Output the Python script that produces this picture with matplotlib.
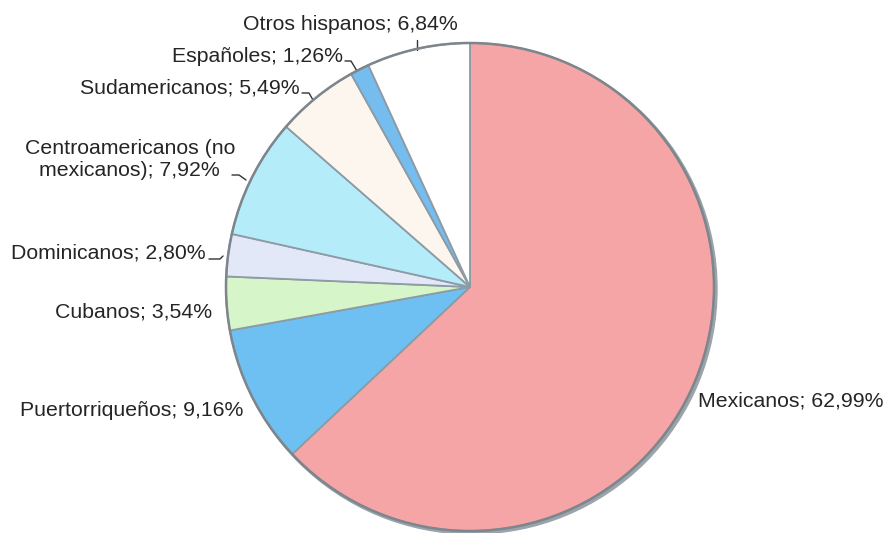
import matplotlib.pyplot as plt
from matplotlib.patches import Circle

labels = ["Mexicanos", "Puertorriqueños", "Cubanos", "Dominicanos",
          "Centroamericanos (no\nmexicanos)", "Sudamericanos", "Españoles",
          "Otros hispanos"]
values = [62.99, 9.16, 3.54, 2.80, 7.92, 5.49, 1.26, 6.84]
colors = ["#f5a5a5", "#6ec0f2", "#d6f5c8", "#e2e8f8",
          "#b5ecfa", "#fdf6ee", "#74bdee", "#ffffff"]

W, H = 891, 533
fig = plt.figure(figsize=(W / 100, H / 100), dpi=100)
ax = fig.add_axes([0, 0, 1, 1])

cx, cy, r = 470, H - 287, 244

# soft shadow behind the pie
ax.add_patch(Circle((cx + 2, cy - 2), r + 1, color="#9aa4aa", zorder=0))

ax.pie(values, colors=colors, startangle=90, counterclock=False,
       center=(cx, cy), radius=r, frame=True,
       wedgeprops=dict(edgecolor="#8d9ba5", linewidth=1.3))

# darker outer rim
ax.add_patch(Circle((cx, cy), r, fill=False, edgecolor="#7d868d", lw=1.8, zorder=5))

ax.set_xlim(0, W)
ax.set_ylim(0, H)
ax.set_aspect("equal")
ax.axis("off")


def fmt(v):
    return ("%.2f" % v).replace(".", ",") + "%"


font = dict(family="Liberation Sans", fontsize=15.3, color="#252525")

# label positions in pixel space (x, y from top), alignment
layout = [
    (698, 401, "left"),
    (243, 410, "right"),
    (212, 312, "right"),
    (206, 253, "right"),
    (235, 159, "right"),
    (300, 88, "right"),
    (343, 57, "right"),
    (350, 24, "center"),
]

for lab, v, (x, y, ha) in zip(labels, values, layout):
    ax.text(x, H - y, "%s; %s" % (lab, fmt(v)), ha=ha, va="center",
            multialignment="center", **font)

# small leader lines
leaders = [
    [(417, 40), (417, 50)],
    [(345, 61), (351, 61), (357, 71)],
    [(302, 93), (309, 93), (313, 100)],
    [(232, 175), (239, 175), (246, 180)],
    [(209, 259), (220, 259), (223, 256)],
]
for pts in leaders:
    ax.plot([p[0] for p in pts], [H - p[1] for p in pts],
            color="#333333", lw=1.0, solid_capstyle="round")

fig.savefig("out.png", dpi=100)
